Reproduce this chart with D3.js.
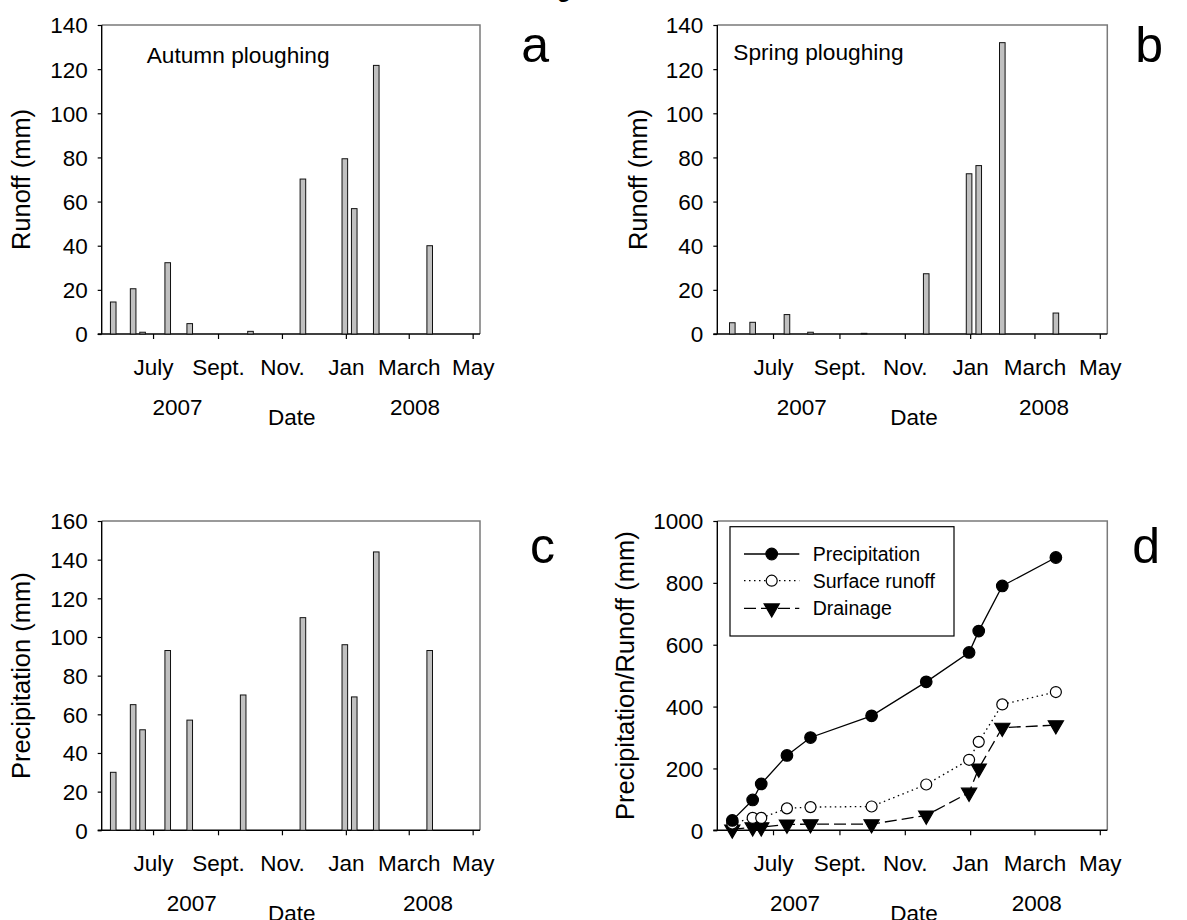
<!DOCTYPE html>
<html>
<head>
<meta charset="utf-8">
<script src="https://cdn.jsdelivr.net/npm/d3@7"></script>
<style>
  html, body { margin: 0; padding: 0; background: #fff; }
  svg { display: block; font-family: "Liberation Sans", Arial, sans-serif; }
</style>
</head>
<body>
<svg id="chart" width="1187" height="920"></svg>
<script>
// ---------------- DATA ----------------
const monthTicks = ["2007-07-01", "2007-09-01", "2007-11-01", "2008-01-01", "2008-03-01", "2008-05-01"];
const monthLabels = ["July", "Sept.", "Nov.", "Jan", "March", "May"];
const yearLabels = ["2007", "2008"];

// Panel a: Autumn ploughing runoff (mm)
const datesA = ["2007-05-24", "2007-06-12", "2007-06-21", "2007-07-15", "2007-08-05", "2007-10-02",
                "2007-11-21", "2007-12-31", "2008-01-09", "2008-01-30", "2008-03-21"];
const runoffAutumn = [14.5, 20.5, 0.8, 32.3, 4.7, 1.2, 70.2, 79.4, 56.8, 121.7, 40.0];

// Panel b: Spring ploughing runoff (mm)
const datesB = ["2007-05-24", "2007-06-12", "2007-07-14", "2007-08-05", "2007-09-24",
                "2007-11-21", "2007-12-31", "2008-01-09", "2008-01-31", "2008-03-21"];
const runoffSpring = [5.1, 5.3, 8.8, 0.8, 0.3, 27.3, 72.6, 76.3, 132, 9.5];

// Panel c: Precipitation (mm)
const datesC = ["2007-05-24", "2007-06-12", "2007-06-21", "2007-07-15", "2007-08-05", "2007-09-25",
                "2007-11-21", "2007-12-31", "2008-01-09", "2008-01-30", "2008-03-21"];
const precipitation = [30, 65, 52, 93, 57, 70, 110, 96, 69, 144, 93];

// Panel d: cumulative values (mm)
const datesD = ["2007-05-24", "2007-06-12", "2007-06-20", "2007-07-14", "2007-08-05", "2007-10-01",
                "2007-11-21", "2007-12-31", "2008-01-09", "2008-01-31", "2008-03-21"];
const cumPrecipitation = [32, 98, 150, 242, 300, 370, 480, 575, 644, 790, 882];
const cumSurfaceRunoff = [22, 40, 40, 71, 75, 77, 148, 228, 286, 407, 447];
const cumDrainage = [3, 10, 10, 19, 20, 20, 48, 122, 200, 332, 340];
const seriesNames = ["Precipitation", "Surface runoff", "Drainage"];

const ticksRunoff = [0, 20, 40, 60, 80, 100, 120, 140];
const ticksPrecip = [0, 20, 40, 60, 80, 100, 120, 140, 160];
const ticksCum = [0, 200, 400, 600, 800, 1000];

// ---------------- DRAWING ----------------
const parse = d3.timeParse("%Y-%m-%d");
const svg = d3.select("#chart");
const FONT_TICK = 22.5;

// cropped title descender at the very top
svg.append("text").attr("x", 564).attr("y", -3).attr("text-anchor", "middle")
  .attr("font-size", 23).attr("font-weight", "bold").text("g");

function frame(p) {
  const g = svg.append("g");
  const x = d3.scaleTime().domain([parse(p.domainStart), parse("2008-05-08")]).range([p.left, p.right]);
  const y = d3.scaleLinear().domain([0, p.ymax]).range([p.bottom, p.top]);

  g.append("path")
    .attr("d", `M${p.left},${p.top}H${p.right}V${p.bottom}`)
    .attr("fill", "none").attr("stroke", "#7a7a7a").attr("stroke-width", 1.5);

  const yAxis = d3.axisLeft(y).tickValues(p.yticks).tickSize(4).tickPadding(10).tickFormat(d3.format("d"));
  const ya = g.append("g").attr("transform", `translate(${p.left},0)`).call(yAxis);
  ya.select(".domain").attr("stroke", "#000").attr("stroke-width", 1.4).attr("d", `M0,${p.bottom}V${p.top}`);
  ya.selectAll(".tick line").attr("stroke", "#000").attr("stroke-width", 1.2);
  ya.selectAll(".tick text").attr("font-size", FONT_TICK).attr("font-family", null).attr("fill", "#000").attr("dy", "0.35em");

  const xAxis = d3.axisBottom(x).tickValues(monthTicks.map(parse)).tickSize(5).tickPadding(0)
    .tickFormat((d, i) => monthLabels[i]);
  const xa = g.append("g").attr("transform", `translate(0,${p.bottom})`).call(xAxis);
  xa.select(".domain").attr("stroke", "#000").attr("stroke-width", 1.5).attr("d", `M${p.left - 4},0H${p.right}`);
  xa.selectAll(".tick line").attr("stroke", "#000").attr("stroke-width", 1.2);
  xa.selectAll(".tick text").attr("font-size", FONT_TICK).attr("font-family", null).attr("fill", "#000")
    .attr("y", 41).attr("dy", 0);

  g.append("text").attr("x", p.year1X).attr("y", p.bottom + 81).attr("text-anchor", "middle")
    .attr("font-size", FONT_TICK).text(yearLabels[0]);
  g.append("text").attr("x", p.year2X).attr("y", p.bottom + 81).attr("text-anchor", "middle")
    .attr("font-size", FONT_TICK).text(yearLabels[1]);
  g.append("text").attr("x", p.dateX).attr("y", p.bottom + 91).attr("text-anchor", "middle")
    .attr("font-size", FONT_TICK).text("Date");

  g.append("text")
    .attr("transform", `translate(${p.titleX},${(p.top + p.bottom) / 2}) rotate(-90)`)
    .attr("text-anchor", "middle").attr("font-size", 25.5).text(p.ytitle);

  return { g, x, y };
}

function barPanel(p, dates, values) {
  const { g, x, y } = frame(p);
  const bw = 5.6;
  g.append("g").selectAll("rect").data(values).join("rect")
    .attr("x", (d, i) => x(parse(dates[i])) - bw / 2)
    .attr("y", d => y(d))
    .attr("width", bw)
    .attr("height", d => y(0) - y(d))
    .attr("fill", "#c0c0c0").attr("stroke", "#111").attr("stroke-width", 1);
  return { g, x, y };
}

// Panel a
const pa = barPanel({ left: 101.7, right: 480, top: 25, bottom: 334, ymax: 140, yticks: ticksRunoff,
  domainStart: "2007-05-13", year1X: 177.5, year2X: 415, dateX: 291.7, titleX: 30, ytitle: "Runoff (mm)" },
  datesA, runoffAutumn);
pa.g.append("text").attr("x", 146.7).attr("y", 63).attr("font-size", 22.7).text("Autumn ploughing");
pa.g.append("text").attr("x", 549).attr("y", 62).attr("text-anchor", "end").attr("font-size", 50).text("a");

// Panel b
const pb = barPanel({ left: 717.3, right: 1107.3, top: 25, bottom: 334, ymax: 140, yticks: ticksRunoff,
  domainStart: "2007-05-10", year1X: 801.7, year2X: 1044, dateX: 914, titleX: 647, ytitle: "Runoff (mm)" },
  datesB, runoffSpring);
pb.g.append("text").attr("x", 733.3).attr("y", 60).attr("font-size", 22.7).text("Spring ploughing");
pb.g.append("text").attr("x", 1163).attr("y", 62).attr("text-anchor", "end").attr("font-size", 50).text("b");

// Panel c
const pc = barPanel({ left: 101.7, right: 480, top: 521, bottom: 830.3, ymax: 160, yticks: ticksPrecip,
  domainStart: "2007-05-13", year1X: 191.7, year2X: 428, dateX: 291.7, titleX: 30, ytitle: "Precipitation (mm)" },
  datesC, precipitation);
pc.g.append("text").attr("x", 555).attr("y", 563).attr("text-anchor", "end").attr("font-size", 50).text("c");

// Panel d
const pdp = { left: 717.3, right: 1107.3, top: 521, bottom: 830.3, ymax: 1000, yticks: ticksCum,
  domainStart: "2007-05-10", year1X: 795, year2X: 1036.7, dateX: 914, titleX: 633.6, ytitle: "Precipitation/Runoff (mm)" };
const pd = frame(pdp);
pd.g.append("text").attr("x", 1160).attr("y", 563).attr("text-anchor", "end").attr("font-size", 50).text("d");

const series = [
  { name: seriesNames[0], values: cumPrecipitation, dash: null, symbol: d3.symbolCircle, size: 105, fill: "#000", rot: 0 },
  { name: seriesNames[1], values: cumSurfaceRunoff, dash: "1.5,3.5", symbol: d3.symbolCircle, size: 95, fill: "#fff", rot: 0 },
  { name: seriesNames[2], values: cumDrainage, dash: "12,5", symbol: d3.symbolTriangle, size: 100, fill: "#000", rot: 180 }
];
const line = d3.line().x((d, i) => pd.x(parse(datesD[i]))).y(d => pd.y(d));
series.slice().reverse().forEach(s => {
  pd.g.append("path").attr("d", line(s.values)).attr("fill", "none").attr("stroke", "#000")
    .attr("stroke-width", 1.3).attr("stroke-dasharray", s.dash);
});
series.slice().reverse().forEach(s => {
  pd.g.append("g").selectAll("path").data(s.values).join("path")
    .attr("transform", (d, i) => `translate(${pd.x(parse(datesD[i]))},${pd.y(d)}) rotate(${s.rot})`)
    .attr("d", d3.symbol(s.symbol, s.size))
    .attr("fill", s.fill).attr("stroke", "#000").attr("stroke-width", 1.2);
});

// legend
const lg = pd.g.append("g");
lg.append("rect").attr("x", 730).attr("y", 526.7).attr("width", 224).attr("height", 109.3)
  .attr("fill", "#fff").attr("stroke", "#000").attr("stroke-width", 1.2);
const rowsY = [554, 580.7, 608.3];
series.forEach((s, i) => {
  lg.append("line").attr("x1", 744).attr("x2", 799.3).attr("y1", rowsY[i]).attr("y2", rowsY[i])
    .attr("stroke", "#000").attr("stroke-width", 1.3).attr("stroke-dasharray", s.dash);
  lg.append("path").attr("transform", `translate(771.7,${rowsY[i]}) rotate(${s.rot})`)
    .attr("d", d3.symbol(s.symbol, s.size)).attr("fill", s.fill).attr("stroke", "#000").attr("stroke-width", 1.2);
  lg.append("text").attr("x", 812.7).attr("y", rowsY[i]).attr("dy", "0.35em")
    .attr("font-size", 19.5).text(s.name);
});
</script>
</body>
</html>
